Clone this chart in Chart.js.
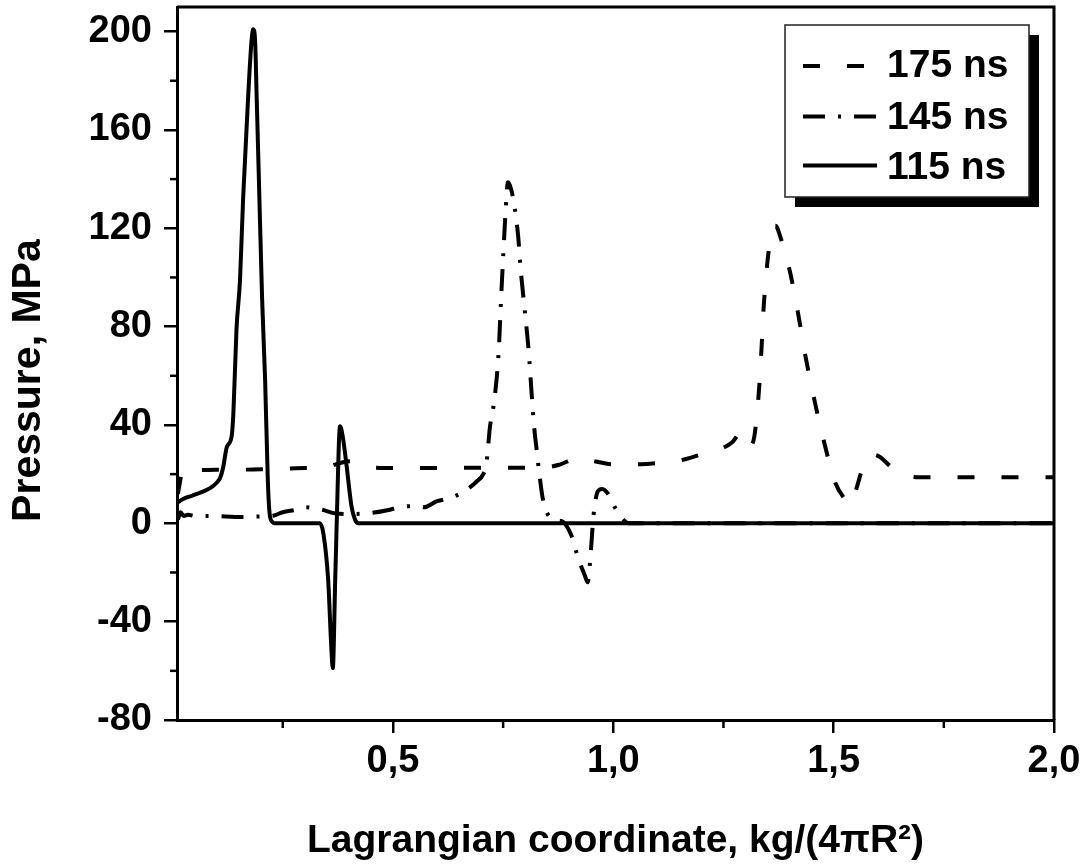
<!DOCTYPE html>
<html><head><meta charset="utf-8">
<script src="https://cdn.jsdelivr.net/npm/chart.js@4.4.1/dist/chart.umd.min.js"></script>
<style>html,body{margin:0;padding:0;background:#fff;}#wrap{width:1086px;height:865px;position:relative;}</style>
</head><body><div id="wrap"><canvas id="c" width="1086" height="865"></canvas></div>
<script>
// ---- data ----
const seriesLabels = ['175 ns', '145 ns', '115 ns'];

const x175 = [0.012,0.016,0.02,0.025,0.035,0.06,0.1,0.15,0.2,0.25,0.3,0.34,0.38,0.40,0.44,0.5,0.6,0.7,0.8,0.85,0.88,0.92,0.95,1.0,1.05,1.1,1.15,1.2,1.24,1.27,1.29,1.31,1.32,1.33,1.336,1.341,1.349,1.356,1.362,1.368,1.38,1.40,1.419,1.436,1.456,1.477,1.504,1.525,1.54,1.551,1.57,1.589,1.605,1.63,1.66,1.694,1.75,2.0];
const p175 = [12,16,20,22,21.4,21.6,21.8,21.8,22,22.2,22.5,22.5,24.5,25.2,23,22.5,22.5,22.6,22.6,22.8,24,26.5,25.5,24,24,24.5,25.5,28,30,33,37,31.5,35.3,52.8,70,87.4,105,115,120,121,116,103,85.7,68,50.4,34,16.4,10,7.6,13.7,24.6,28,27,23,19.8,18.7,18.7,18.7];

const x145 = [0.012,0.018,0.025,0.035,0.05,0.08,0.12,0.16,0.2,0.23,0.25,0.28,0.30,0.32,0.34,0.37,0.41,0.45,0.49,0.52,0.55,0.57,0.6,0.614,0.64,0.67,0.69,0.705,0.712,0.72,0.73,0.74,0.745,0.75,0.755,0.761,0.768,0.776,0.784,0.79,0.80,0.808,0.815,0.82,0.826,0.833,0.84,0.852,0.87,0.884,0.905,0.92,0.935,0.942,0.948,0.955,0.965,0.975,0.99,1.005,1.02,1.035,2.0];
const p145 = [1.5,4.5,3,3.5,3,3,2.8,2.6,2.8,3.2,4.5,5.5,6.5,6.2,5.5,4,3.8,4.2,5.4,6.8,7,6.5,9,9.6,11,14,17,20,24,39,50,70,90,108,125,138.7,136,128.6,117,103,85,70,52,40,30,19,10,3.5,1.2,0.8,-5,-14,-21,-24,-14,3,13,14,11.5,6,2,0,0];

const x115 = [0.012,0.025,0.04,0.055,0.07,0.086,0.1,0.108,0.115,0.123,0.134,0.138,0.145,0.153,0.16,0.171,0.179,0.183,0.187,0.191,0.197,0.203,0.21,0.216,0.22,0.226,0.232,0.334,0.342,0.353,0.36,0.3635,0.369,0.373,0.377,0.38,0.386,0.394,0.406,0.414,0.422,2.0];
const p115 = [8.5,10,11,12,13,14.4,16.5,18.5,23,31,35.4,45,79,99,132,172,196,201,197,172,132,92,58,18,4.2,0.6,0,0,-4,-23,-50,-59,-23,4,31,39.5,35.4,24.6,6.9,1.5,0,0];

const xTickValues = [0.5, 1.0, 1.5, 2.0];
const xMinorTicks = [0.25, 0.75, 1.25, 1.75];
const yTickValues = [-80, -40, 0, 40, 80, 120, 160, 200];
const yMinorTicks = [-60, -20, 20, 60, 100, 140, 180];
const xTitle = 'Lagrangian coordinate, kg/(4\u03c0R\u00b2)';
const yTitle = 'Pressure, MPa';

// ---- styles ----
const FONT = 'Liberation Sans, Arial, Helvetica, sans-serif';
const dash175 = [17, 27];
const dash145 = [22, 13, 3, 13];

const toPts = (xs, ys) => xs.map((v, i) => ({x: v, y: ys[i]}));

const decorPlugin = {
  id: 'decor',
  afterDraw(chart) {
    const {ctx, chartArea: a, scales: {x, y}} = chart;
    ctx.save();
    ctx.strokeStyle = '#000';
    ctx.lineWidth = 3;
    ctx.beginPath();
    ctx.moveTo(a.left, a.top); ctx.lineTo(a.right, a.top); ctx.lineTo(a.right, a.bottom);
    ctx.stroke();
    ctx.lineWidth = 2.5;
    yMinorTicks.forEach(v => { const py = y.getPixelForValue(v); ctx.beginPath(); ctx.moveTo(a.left - 7, py); ctx.lineTo(a.left, py); ctx.stroke(); });
    xMinorTicks.forEach(v => { const px = x.getPixelForValue(v); ctx.beginPath(); ctx.moveTo(px, a.bottom); ctx.lineTo(px, a.bottom + 8); ctx.stroke(); });

    // legend
    const bx = a.right - 269, by = a.top + 18, bw = 244, bh = 172;
    ctx.fillStyle = '#000';
    ctx.fillRect(bx + 10, by + 10, bw, bh);
    ctx.fillStyle = '#fff';
    ctx.fillRect(bx, by, bw, bh);
    ctx.lineWidth = 1.5; ctx.strokeStyle = '#222';
    ctx.strokeRect(bx, by, bw, bh);
    const ds = chart.data.datasets;
    const order = [2, 1, 0];
    const rowLineY = [41, 91.5, 140.5];
    const rowBase = [52, 103.5, 153.5];
    ctx.font = 'bold 39px ' + FONT;
    ctx.textBaseline = 'alphabetic';
    ctx.textAlign = 'left';
    order.forEach((di, r) => {
      const d = ds[di];
      ctx.strokeStyle = '#000';
      ctx.lineWidth = 4;
      ctx.lineCap = 'butt';
      ctx.setLineDash(d.borderDash || []);
      ctx.beginPath();
      ctx.moveTo(bx + 18, by + rowLineY[r]);
      ctx.lineTo(bx + 92, by + rowLineY[r]);
      ctx.stroke();
      ctx.setLineDash([]);
      ctx.fillStyle = '#000';
      ctx.fillText(d.label, bx + 102, by + rowBase[r]);
    });
    ctx.restore();
  }
};

const tickFont = {family: FONT, size: 38, weight: 'bold'};

new Chart(document.getElementById('c'), {
  type: 'line',
  data: {
    datasets: [
      {label: seriesLabels[2], data: toPts(x115, p115), borderColor: '#000', borderWidth: 4, borderDash: [], pointRadius: 0, cubicInterpolationMode: 'monotone', borderJoinStyle: 'round', borderCapStyle: 'round'},
      {label: seriesLabels[1], data: toPts(x145, p145), borderColor: '#000', borderWidth: 4, borderDash: dash145, pointRadius: 0, cubicInterpolationMode: 'monotone', borderJoinStyle: 'round'},
      {label: seriesLabels[0], data: toPts(x175, p175), borderColor: '#000', borderWidth: 4, borderDash: dash175, pointRadius: 0, cubicInterpolationMode: 'monotone', borderJoinStyle: 'round'}
    ]
  },
  options: {
    responsive: false,
    animation: false,
    devicePixelRatio: 1,
    layout: {padding: {top: 7, right: 32, left: 0, bottom: 0}},
    plugins: {legend: {display: false}, tooltip: {enabled: false}},
    scales: {
      x: {
        type: 'linear', position: 'bottom', min: 0.01, max: 2.0,
        afterBuildTicks: s => { s.ticks = xTickValues.map(v => ({value: v})); },
        afterFit: s => { s.height = 145; s.paddingLeft = 0; s.paddingRight = 0; },
        grid: {drawOnChartArea: false, drawTicks: true, tickLength: 13, lineWidth: 2.5, color: '#000'},
        border: {display: true, color: '#000', width: 3},
        ticks: {font: tickFont, color: '#000', padding: 6, maxRotation: 0, autoSkip: false,
                callback: v => Number(v).toFixed(1).replace('.', ',')},
        title: {display: true, text: xTitle, color: '#000', font: {family: FONT, size: 39, weight: 'bold'}, padding: {top: 0, bottom: 0}}
      },
      y: {
        type: 'linear', position: 'left', min: -80, max: 210,
        afterBuildTicks: s => { s.ticks = yTickValues.map(v => ({value: v})); },
        afterFit: s => { s.width = 177; s.paddingTop = 0; s.paddingBottom = 0; },
        grid: {drawOnChartArea: false, drawTicks: true, tickLength: 13, lineWidth: 2.5, color: '#000'},
        border: {display: true, color: '#000', width: 3},
        ticks: {font: tickFont, color: '#000', padding: 12, autoSkip: false, callback: v => String(v)},
        title: {display: true, text: yTitle + '   ', color: '#000', font: {family: FONT, size: 41, weight: 'bold'}, padding: {top: 4, bottom: 0}}
      }
    }
  },
  plugins: [decorPlugin]
});
</script>
</body></html>
